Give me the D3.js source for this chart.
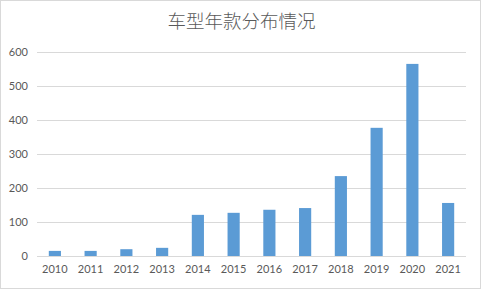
<!DOCTYPE html>
<html>
<head>
<meta charset="utf-8">
<script src="https://d3js.org/d3.v7.min.js"></script>
<style>
  body { margin: 0; background: #fff; }
  svg { display: block; }
</style>
</head>
<body>
<script>
// chart data
var years = ["2010", "2011", "2012", "2013", "2014", "2015", "2016", "2017", "2018", "2019", "2020", "2021"];
var counts = [15, 15, 20, 24, 121, 127, 136, 141, 235, 377, 565, 156];
var yTicks = [0, 100, 200, 300, 400, 500, 600];
var title = "车型年款分布情况";

var width = 481, height = 289;
var margin = {top: 52, right: 15, bottom: 33, left: 37};

var svg = d3.select("body").append("svg")
    .attr("width", width)
    .attr("height", height);

// outer frame
svg.append("rect")
    .attr("x", 0.5).attr("y", 0.5)
    .attr("width", width - 1).attr("height", height - 1)
    .attr("fill", "#fff")
    .attr("stroke", "#d9d9d9");

svg.append("text")
    .attr("x", width / 2 + 1)
    .attr("y", 28)
    .attr("text-anchor", "middle")
    .style("font-family", "'Noto Sans CJK SC', sans-serif")
    .style("font-size", "18.5px")
    .style("font-weight", 300)
    .style("fill", "#595959")
    .text(title);

var x = d3.scaleBand()
    .domain(years)
    .range([margin.left, width - margin.right])
    .paddingInner(0.66)
    .paddingOuter(0.33);

var y = d3.scaleLinear()
    .domain([0, 600])
    .range([height - margin.bottom, margin.top]);

// gridlines
svg.append("g")
    .selectAll("line")
    .data(yTicks)
    .join("line")
      .attr("x1", margin.left)
      .attr("x2", width - margin.right)
      .attr("y1", d => Math.round(y(d)) + 0.5)
      .attr("y2", d => Math.round(y(d)) + 0.5)
      .attr("stroke", "#d9d9d9");

// bars
svg.append("g")
    .selectAll("rect")
    .data(counts)
    .join("rect")
      .attr("x", (d, i) => x(years[i]))
      .attr("y", d => y(d))
      .attr("width", x.bandwidth())
      .attr("height", d => y(0) - y(d))
      .attr("fill", "#5b9bd5");

var yAxis = svg.append("g")
    .attr("transform", "translate(" + (margin.left - 9) + ",0)")
    .call(d3.axisLeft(y).tickValues(yTicks).tickSize(0).tickPadding(0));

var xAxis = svg.append("g")
    .attr("transform", "translate(0," + (height - margin.bottom) + ")")
    .call(d3.axisBottom(x).tickSize(0).tickPadding(9));

[yAxis, xAxis].forEach(function (ax) {
    ax.select(".domain").remove();
    ax.selectAll("text")
        .style("font-family", "Lato, 'Liberation Sans', sans-serif")
        .style("font-size", "11px")
        .style("fill", "#595959");
});
</script>
</body>
</html>
